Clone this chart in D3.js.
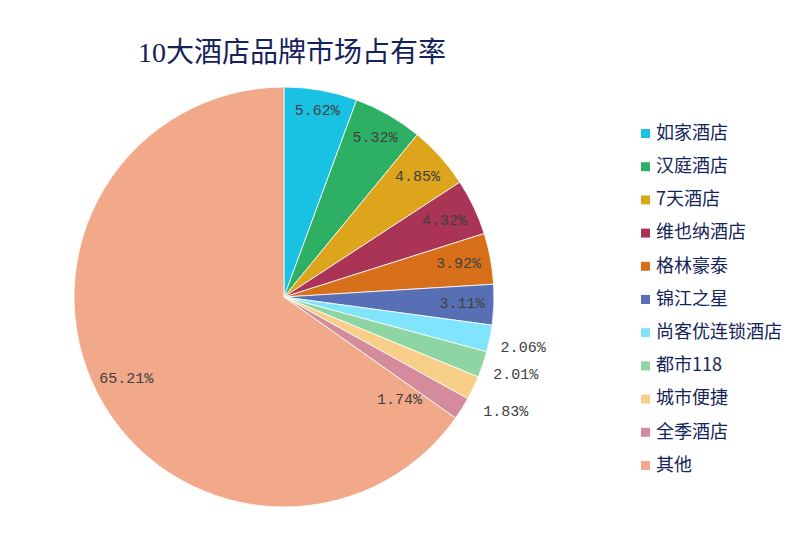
<!DOCTYPE html>
<html>
<head>
<meta charset="utf-8">
<script src="https://cdn.jsdelivr.net/npm/d3@7"></script>
<style>
  html, body { margin: 0; padding: 0; background: #fff; }
  #viz { width: 800px; height: 545px; }
</style>
</head>
<body>
<div id="viz"></div>
<script>
const W = 800;
const H = 545;

const TITLE = '10大酒店品牌市场占有率';
const brands = ['如家酒店', '汉庭酒店', '7天酒店', '维也纳酒店', '格林豪泰', '锦江之星',
  '尚客优连锁酒店', '都市118', '城市便捷', '全季酒店', '其他'];
const shares = [5.62, 5.32, 4.85, 4.32, 3.92, 3.11, 2.06, 2.01, 1.83, 1.74, 65.21];
const colors = ['#19c2e3', '#2eb064', '#dca51b', '#a93456', '#d8701b', '#5770b5',
  '#80e4fd', '#8dd5a2', '#f7cf89', '#d48b9b', '#f2a98a'];
// where each label sits: inside end, outside end, or free inside
const labelMode = ['in', 'in', 'in', 'in', 'in', 'in', 'out', 'out', 'out', 'free', 'in'];

const CX = 284;
const CY = 297;
const R = 210;
const LABEL_W = 45;
const LABEL_H = 14;

const svg = d3.select('#viz')
  .append('svg')
  .attr('width', W)
  .attr('height', H)
  .attr('viewBox', `0 0 ${W} ${H}`);

svg.append('text')
  .attr('x', 292)
  .attr('y', 56)
  .attr('text-anchor', 'middle')
  .attr('dominant-baseline', 'middle')
  .attr('font-family', '"Liberation Serif", "Noto Sans CJK SC", serif')
  .attr('font-size', 28)
  .attr('fill', '#14235a')
  .text(TITLE);

const items = brands.map((name, i) => ({ name, value: shares[i], color: colors[i], mode: labelMode[i] }));

const pie = d3.pie().value((d) => d.value).sort(null);
const arcs = pie(items);
const arc = d3.arc().innerRadius(0).outerRadius(R);

const g = svg.append('g').attr('transform', `translate(${CX},${CY})`);

g.selectAll('path')
  .data(arcs)
  .join('path')
  .attr('d', arc)
  .attr('fill', (d) => d.data.color)
  .attr('stroke', '#fff')
  .attr('stroke-width', 0.8);

// distance along the bisector so the far corner of the label box lands on radius rf
function insideEnd(angle, rf) {
  const ux = Math.sin(angle);
  const uy = -Math.cos(angle);
  const cx = Math.sign(ux) * LABEL_W / 2;
  const cy = Math.sign(uy) * LABEL_H / 2;
  const uc = ux * cx + uy * cy;
  const d = -uc + Math.sqrt(uc * uc - (cx * cx + cy * cy) + rf * rf);
  return [ux * d, uy * d];
}

let lastOutY = -Infinity;
function labelPos(d) {
  const a = (d.startAngle + d.endAngle) / 2;
  if (d.data.mode === 'out') {
    const rr = R + 11;
    const x = Math.sin(a) * rr;
    let y = -Math.cos(a) * rr + LABEL_H / 2;
    // the last outside label got pushed a little further down
    if (y - lastOutY < 25) y = y + 12;
    lastOutY = y;
    return [x + LABEL_W / 2, y];
  }
  if (d.data.mode === 'free') {
    const a2 = a + 0.17;
    return [Math.sin(a2) * 155, -Math.cos(a2) * 155];
  }
  return insideEnd(a, 201);
}

const fmt = d3.format('.2f');

g.selectAll('text.lbl')
  .data(arcs)
  .join('text')
  .attr('class', 'lbl')
  .attr('transform', (d) => `translate(${labelPos(d)})`)
  .attr('text-anchor', 'middle')
  .attr('dominant-baseline', 'middle')
  .attr('font-family', '"Liberation Mono", "DejaVu Sans Mono", monospace')
  .attr('font-size', 15)
  .attr('fill', '#404040')
  .text((d) => fmt(d.data.value) + '%');

const legend = svg.append('g').attr('transform', 'translate(641,134)');
const rowY = d3.scalePoint().domain(brands).range([0, 332]);

const rows = legend.selectAll('g')
  .data(items)
  .join('g')
  .attr('transform', (d) => `translate(0,${rowY(d.name)})`);

rows.append('rect')
  .attr('x', 0)
  .attr('y', -5)
  .attr('width', 9)
  .attr('height', 9)
  .attr('fill', (d) => d.color);

rows.append('text')
  .attr('x', 15)
  .attr('y', 0)
  .attr('dominant-baseline', 'middle')
  .attr('font-family', '"Noto Sans CJK SC", sans-serif')
  .attr('font-size', 18)
  .attr('fill', '#14235a')
  .text((d) => d.name);
</script>
</body>
</html>
